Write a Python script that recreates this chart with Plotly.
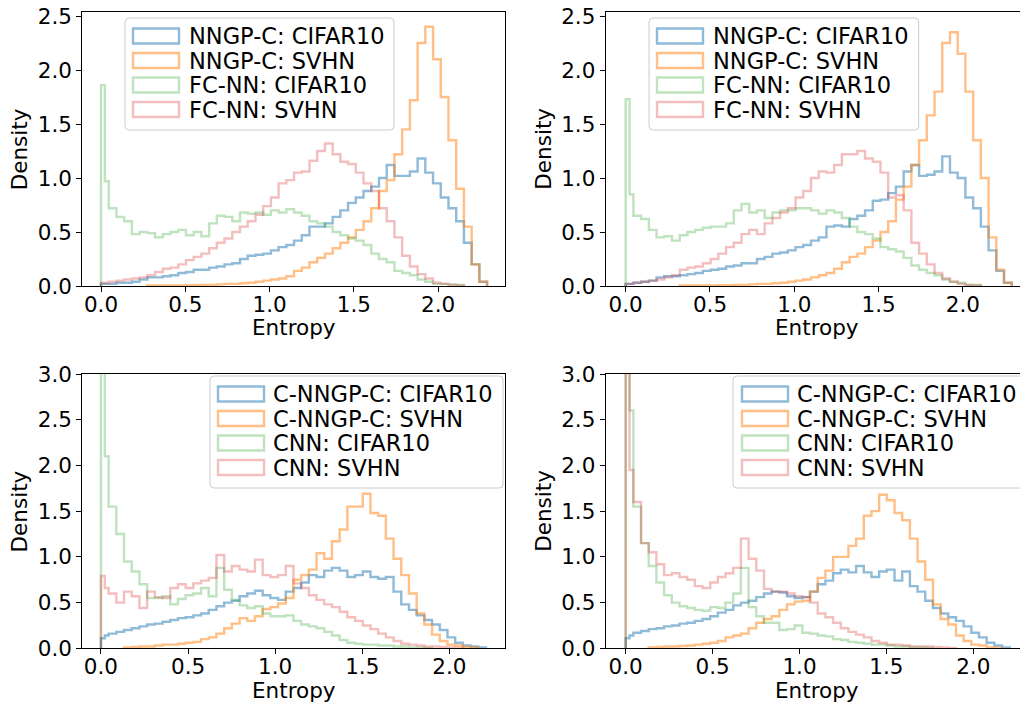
import plotly.graph_objects as go

# ---------------- data (density histograms of predictive entropy) ----------------
# bin edges: first bin split in two halves, then uniform bins
top_edges = [0.0, 0.0229] + [round(0.0458 * k, 4) for k in range(1, 51)]
bot_edges = [0.0, 0.0221] + [round(0.0442 * k, 4) for k in range(1, 51)]

# top-left panel
tl_nngp_cifar = [0.02, 0.02, 0.02, 0.03, 0.03, 0.04, 0.06, 0.08, 0.08, 0.09, 0.10, 0.12, 0.13, 0.15, 0.15, 0.17,
                 0.18, 0.20, 0.21, 0.25, 0.28, 0.29, 0.30, 0.33, 0.36, 0.38, 0.42, 0.47, 0.55, 0.55, 0.58, 0.64,
                 0.70, 0.77, 0.82, 0.88, 0.92, 1.00, 1.12, 1.02, 1.02, 1.06, 1.18, 1.05, 0.95, 0.82, 0.72, 0.60,
                 0.40, 0.20, 0.04]
tl_nngp_svhn = [0, 0, 0, 0, 0, 0, 0, 0.005, 0.005, 0.005, 0.005, 0.005, 0.008, 0.01, 0.01, 0.01, 0.015, 0.02,
                0.02, 0.025, 0.03, 0.04, 0.05, 0.06, 0.07, 0.09, 0.14, 0.17, 0.22, 0.26, 0.30, 0.35, 0.40, 0.45,
                0.52, 0.60, 0.72, 0.88, 0.98, 1.22, 1.45, 1.72, 2.25, 2.40, 2.10, 1.75, 1.35, 0.90, 0.55, 0.20,
                0.04]
tl_fc_cifar = [1.86, 0.97, 0.72, 0.64, 0.60, 0.48, 0.50, 0.49, 0.45, 0.48, 0.50, 0.52, 0.47, 0.50, 0.46, 0.58,
               0.65, 0.64, 0.60, 0.68, 0.67, 0.68, 0.66, 0.70, 0.68, 0.71, 0.68, 0.65, 0.60, 0.58, 0.55, 0.50,
               0.47, 0.44, 0.42, 0.38, 0.30, 0.25, 0.22, 0.14, 0.12, 0.10, 0.06, 0.04, 0.02, 0.02, 0.015, 0.01,
               0, 0, 0]
tl_fc_svhn = [0.03, 0.03, 0.04, 0.05, 0.06, 0.07, 0.08, 0.10, 0.13, 0.16, 0.17, 0.20, 0.24, 0.27, 0.30, 0.35,
              0.40, 0.44, 0.50, 0.55, 0.60, 0.66, 0.74, 0.82, 0.95, 0.98, 1.05, 1.06, 1.16, 1.25, 1.32, 1.22,
              1.15, 1.13, 1.05, 0.95, 0.88, 0.72, 0.60, 0.45, 0.28, 0.18, 0.11, 0.07, 0.03, 0.02, 0.01, 0.005,
              0, 0, 0]

# top-right panel
tr_nngp_cifar = [0.02, 0.02, 0.03, 0.04, 0.05, 0.08, 0.09, 0.09, 0.10, 0.11, 0.12, 0.14, 0.15, 0.16, 0.18, 0.19,
                 0.21, 0.21, 0.25, 0.27, 0.30, 0.31, 0.33, 0.36, 0.38, 0.42, 0.45, 0.55, 0.56, 0.55, 0.62, 0.65,
                 0.70, 0.79, 0.80, 0.86, 0.92, 1.06, 1.12, 1.02, 1.03, 1.06, 1.20, 1.05, 1.00, 0.82, 0.72, 0.55,
                 0.33, 0.14, 0.03]
tr_nngp_svhn = [0, 0, 0, 0, 0, 0, 0, 0, 0.005, 0.005, 0.005, 0.005, 0.005, 0.007, 0.008, 0.01, 0.01, 0.015,
                0.02, 0.02, 0.025, 0.03, 0.04, 0.05, 0.06, 0.08, 0.10, 0.12, 0.16, 0.22, 0.27, 0.30, 0.36, 0.42,
                0.50, 0.60, 0.80, 0.92, 1.12, 1.35, 1.58, 1.80, 2.25, 2.35, 2.15, 1.80, 1.35, 1.00, 0.45, 0.15,
                0.03]
tr_fc_cifar = [1.73, 0.85, 0.65, 0.62, 0.52, 0.45, 0.46, 0.42, 0.47, 0.50, 0.52, 0.54, 0.55, 0.55, 0.58, 0.70,
               0.76, 0.68, 0.70, 0.63, 0.68, 0.70, 0.70, 0.72, 0.72, 0.70, 0.67, 0.70, 0.68, 0.63, 0.55, 0.50,
               0.48, 0.44, 0.36, 0.34, 0.32, 0.26, 0.19, 0.15, 0.12, 0.10, 0.06, 0.04, 0.03, 0.01, 0.01, 0,
               0, 0, 0]
tr_fc_svhn = [0.02, 0.02, 0.03, 0.04, 0.05, 0.06, 0.08, 0.10, 0.15, 0.17, 0.18, 0.21, 0.25, 0.30, 0.36, 0.40,
              0.48, 0.52, 0.48, 0.58, 0.63, 0.68, 0.72, 0.82, 0.88, 1.00, 1.06, 1.05, 1.12, 1.22, 1.22, 1.25,
              1.18, 1.15, 1.05, 0.82, 0.84, 0.70, 0.40, 0.30, 0.20, 0.12, 0.07, 0.04, 0.02, 0.01, 0.005, 0,
              0, 0, 0]

# bottom-left panel
bl_cnngp_cifar = [0.11, 0.14, 0.16, 0.18, 0.20, 0.22, 0.24, 0.26, 0.27, 0.29, 0.31, 0.33, 0.34, 0.36, 0.38, 0.42,
                  0.46, 0.50, 0.52, 0.57, 0.60, 0.63, 0.58, 0.55, 0.53, 0.62, 0.66, 0.72, 0.80, 0.78, 0.85, 0.88,
                  0.85, 0.78, 0.80, 0.84, 0.78, 0.76, 0.78, 0.62, 0.48, 0.42, 0.36, 0.31, 0.26, 0.20, 0.12, 0.06,
                  0.03, 0.02, 0.01]
bl_cnngp_svhn = [0, 0, 0, 0, 0.01, 0.015, 0.02, 0.02, 0.03, 0.04, 0.04, 0.05, 0.06, 0.07, 0.10, 0.12,
                 0.16, 0.22, 0.27, 0.33, 0.30, 0.35, 0.43, 0.45, 0.49, 0.55, 0.75, 0.80, 0.86, 1.04, 0.98, 1.17,
                 1.30, 1.55, 1.55, 1.69, 1.48, 1.45, 1.20, 0.98, 0.80, 0.60, 0.38, 0.26, 0.15, 0.08, 0.04, 0.03,
                 0.015, 0.01, 0]
bl_cnn_cifar = [4.5, 2.1, 1.55, 1.25, 0.95, 0.84, 0.70, 0.55, 0.55, 0.57, 0.48, 0.54, 0.58, 0.60, 0.66, 0.57,
                0.88, 0.64, 0.53, 0.47, 0.44, 0.46, 0.38, 0.35, 0.35, 0.36, 0.30, 0.26, 0.24, 0.22, 0.18, 0.14,
                0.09, 0.06, 0.05, 0.04, 0.04, 0.03, 0.03, 0.02, 0.02, 0.01, 0.01, 0.005, 0, 0, 0, 0,
                0, 0, 0]
bl_cnn_svhn = [0.79, 0.66, 0.60, 0.50, 0.62, 0.57, 0.44, 0.62, 0.56, 0.55, 0.66, 0.70, 0.66, 0.71, 0.74, 0.77,
               1.02, 0.84, 0.90, 0.86, 0.84, 0.97, 0.80, 0.78, 0.80, 0.90, 0.71, 0.66, 0.58, 0.53, 0.48, 0.45,
               0.40, 0.34, 0.30, 0.25, 0.21, 0.16, 0.12, 0.08, 0.05, 0.04, 0.03, 0.02, 0.02, 0.015, 0.01, 0.005,
               0, 0, 0]

# bottom-right panel
br_cnngp_cifar = [0.11, 0.14, 0.17, 0.19, 0.21, 0.22, 0.24, 0.25, 0.27, 0.28, 0.30, 0.32, 0.35, 0.39, 0.42, 0.47,
                  0.50, 0.52, 0.56, 0.60, 0.62, 0.61, 0.57, 0.55, 0.56, 0.62, 0.70, 0.74, 0.82, 0.86, 0.83, 0.90,
                  0.83, 0.78, 0.84, 0.86, 0.74, 0.84, 0.68, 0.62, 0.52, 0.44, 0.38, 0.34, 0.30, 0.24, 0.17, 0.12,
                  0.06, 0.03, 0.01]
br_cnngp_svhn = [0, 0, 0, 0, 0.01, 0.015, 0.02, 0.02, 0.025, 0.03, 0.04, 0.05, 0.06, 0.08, 0.12, 0.14,
                 0.16, 0.22, 0.28, 0.32, 0.35, 0.42, 0.48, 0.51, 0.52, 0.62, 0.77, 0.85, 1.00, 1.00, 1.12, 1.20,
                 1.45, 1.50, 1.68, 1.62, 1.48, 1.40, 1.20, 0.95, 0.75, 0.48, 0.32, 0.26, 0.14, 0.08, 0.04, 0.03,
                 0.01, 0.005, 0]
br_cnn_cifar = [6.0, 2.6, 1.55, 1.15, 0.90, 0.72, 0.58, 0.50, 0.46, 0.44, 0.42, 0.41, 0.45, 0.44, 0.50, 0.60,
                0.88, 0.45, 0.35, 0.28, 0.28, 0.20, 0.21, 0.25, 0.17, 0.16, 0.14, 0.13, 0.10, 0.09, 0.07, 0.06,
                0.05, 0.04, 0.04, 0.03, 0.02, 0.02, 0.01, 0.01, 0.005, 0, 0, 0, 0, 0, 0, 0,
                0, 0, 0]
br_cnn_svhn = [5.0, 1.95, 1.6, 1.15, 1.05, 0.92, 0.80, 0.82, 0.78, 0.75, 0.68, 0.66, 0.72, 0.78, 0.82, 0.88,
               1.20, 0.98, 0.85, 0.65, 0.62, 0.62, 0.60, 0.57, 0.56, 0.50, 0.38, 0.34, 0.28, 0.22, 0.18, 0.15,
               0.12, 0.08, 0.06, 0.04, 0.04, 0.03, 0.02, 0.02, 0.02, 0.015, 0.01, 0.005, 0, 0, 0, 0,
               0, 0, 0]

top_labels = ["NNGP-C: CIFAR10", "NNGP-C: SVHN", "FC-NN: CIFAR10", "FC-NN: SVHN"]
bot_labels = ["C-NNGP-C: CIFAR10", "C-NNGP-C: SVHN", "CNN: CIFAR10", "CNN: SVHN"]
x_ticks = [0.0, 0.5, 1.0, 1.5, 2.0]
y_ticks_top = [0.0, 0.5, 1.0, 1.5, 2.0, 2.5]
y_ticks_bot = [0.0, 0.5, 1.0, 1.5, 2.0, 2.5, 3.0]

# ---------------- styling ----------------
W, H = 1020, 708
COLORS = ["rgba(31,119,180,0.5)", "rgba(255,127,14,0.5)",
          "rgba(44,160,44,0.3)", "rgba(214,39,40,0.3)"]
FONT = "DejaVu Sans"
LW = 2.4


def px(x):
    return x / W


def py(y):
    return 1 - y / H


panels = [
    dict(edges=top_edges, series=[tl_nngp_cifar, tl_nngp_svhn, tl_fc_cifar, tl_fc_svhn], labels=top_labels,
         dx=(82.3, 505.3), dy=(12, 286), xr=[-0.111, 2.398], yr=[0, 2.537], yt=y_ticks_top, right=False,
         leg=dict(box=(125, 18, 394, 130), hx=133, tx=187, rows=[36, 60.5, 85, 109.5])),
    dict(edges=top_edges, series=[tr_nngp_cifar, tr_nngp_svhn, tr_fc_cifar, tr_fc_svhn], labels=top_labels,
         dx=(605.7, 1020), dy=(12, 286), xr=[-0.1186, 2.339], yr=[0, 2.537], yt=y_ticks_top, right=True,
         leg=dict(box=(649, 18, 918.7, 130), hx=657, tx=711, rows=[36, 60.5, 85, 109.5])),
    dict(edges=bot_edges, series=[bl_cnngp_cifar, bl_cnngp_svhn, bl_cnn_cifar, bl_cnn_svhn], labels=bot_labels,
         dx=(82.3, 505.3), dy=(374, 648.3), xr=[-0.107, 2.321], yr=[0, 3.0], yt=y_ticks_bot, right=False,
         leg=dict(box=(210, 376, 503, 488), hx=218, tx=271, rows=[394, 418.5, 443, 467.5])),
    dict(edges=bot_edges, series=[br_cnngp_cifar, br_cnngp_svhn, br_cnn_cifar, br_cnn_svhn], labels=bot_labels,
         dx=(605.7, 1020), dy=(374, 648.3), xr=[-0.115, 2.269], yr=[0, 3.0], yt=y_ticks_bot, right=True,
         leg=dict(box=(733, 376, 1030, 488), hx=742, tx=795, rows=[394, 418.5, 443, 467.5])),
]

fig = go.Figure()
layout = dict(template="none", width=W, height=H, margin=dict(l=0, r=0, t=0, b=0, pad=0),
              paper_bgcolor="white", plot_bgcolor="white", showlegend=False,
              font=dict(family=FONT, size=21.5, color="black"))
shapes, annotations = [], []


def rounded_path(x0, y0, x1, y1, r):
    rx, ry = r / W, r / H
    X0, X1, Y0, Y1 = px(x0), px(x1), py(y0), py(y1)
    return (f"M{X0+rx},{Y0} L{X1-rx},{Y0} Q{X1},{Y0} {X1},{Y0-ry} L{X1},{Y1+ry} Q{X1},{Y1} {X1-rx},{Y1} "
            f"L{X0+rx},{Y1} Q{X0},{Y1} {X0},{Y1+ry} L{X0},{Y0-ry} Q{X0},{Y0} {X0+rx},{Y0} Z")


for i, p in enumerate(panels):
    n = i + 1
    xa = "x" if n == 1 else f"x{n}"
    ya = "y" if n == 1 else f"y{n}"
    edges = p["edges"]
    for vals, col in zip(p["series"], COLORS):
        nz = [k for k, v in enumerate(vals) if v > 0]
        i0, i1 = nz[0], nz[-1]
        xs = [edges[i0]] + edges[i0:i1 + 1] + [edges[i1 + 1]]
        ys = [0] + vals[i0:i1 + 1] + [0]
        fig.add_trace(go.Scatter(x=xs, y=ys, mode="lines", line=dict(color=col, width=LW, shape="hv"),
                                 xaxis=xa, yaxis=ya, hoverinfo="skip"))
    axis_common = dict(showgrid=False, zeroline=False, showline=True, linecolor="black", linewidth=1,
                       ticks="outside", ticklen=5, tickwidth=1, tickcolor="black", automargin=False,
                       tickfont=dict(family=FONT, size=21.5, color="black"), tickformat=".1f")
    layout["xaxis" if n == 1 else f"xaxis{n}"] = dict(
        axis_common, domain=[px(p["dx"][0]), px(p["dx"][1])], range=p["xr"], tickvals=x_ticks,
        anchor=ya, mirror=True, ticklabelstandoff=-6)
    layout["yaxis" if n == 1 else f"yaxis{n}"] = dict(
        axis_common, domain=[py(p["dy"][1]), py(p["dy"][0])], range=p["yr"], tickvals=p["yt"],
        anchor=xa, mirror=not p["right"])

    # axis labels
    cx = (p["dx"][0] + p["dx"][0] + 423) / 2
    annotations.append(dict(text="Entropy", x=px(cx), y=py(p["dy"][1] + 42), xref="paper", yref="paper",
                            showarrow=False, xanchor="center", yanchor="middle",
                            font=dict(family=FONT, size=21.5, color="black")))
    annotations.append(dict(text="Density", x=px(p["dx"][0] - 63), y=py((p["dy"][0] + p["dy"][1]) / 2),
                            xref="paper", yref="paper", showarrow=False, textangle=-90,
                            xanchor="center", yanchor="middle",
                            font=dict(family=FONT, size=21.5, color="black")))

    # legend (drawn manually to reproduce the outlined patch handles)
    lg = p["leg"]
    bx0, by0, bx1, by1 = lg["box"]
    shapes.append(dict(type="path", xref="paper", yref="paper", path=rounded_path(bx0, by0, bx1, by1, 4),
                       line=dict(color="rgb(204,204,204)", width=1), fillcolor="rgba(255,255,255,0.8)"))
    for lab, col, ry in zip(p["labels"], COLORS, lg["rows"]):
        shapes.append(dict(type="rect", xref="paper", yref="paper",
                           x0=px(lg["hx"]), x1=px(lg["hx"] + 46), y0=py(ry - 7.5), y1=py(ry + 7.5),
                           line=dict(color=col, width=LW), fillcolor="rgba(0,0,0,0)"))
        annotations.append(dict(text=lab, x=px(lg["tx"]), y=py(ry), xref="paper", yref="paper",
                                showarrow=False, xanchor="left", yanchor="middle",
                                font=dict(family=FONT, size=22.5, color="black")))

layout["shapes"] = shapes
layout["annotations"] = annotations
fig.update_layout(**layout)
fig.write_html("out.html")
